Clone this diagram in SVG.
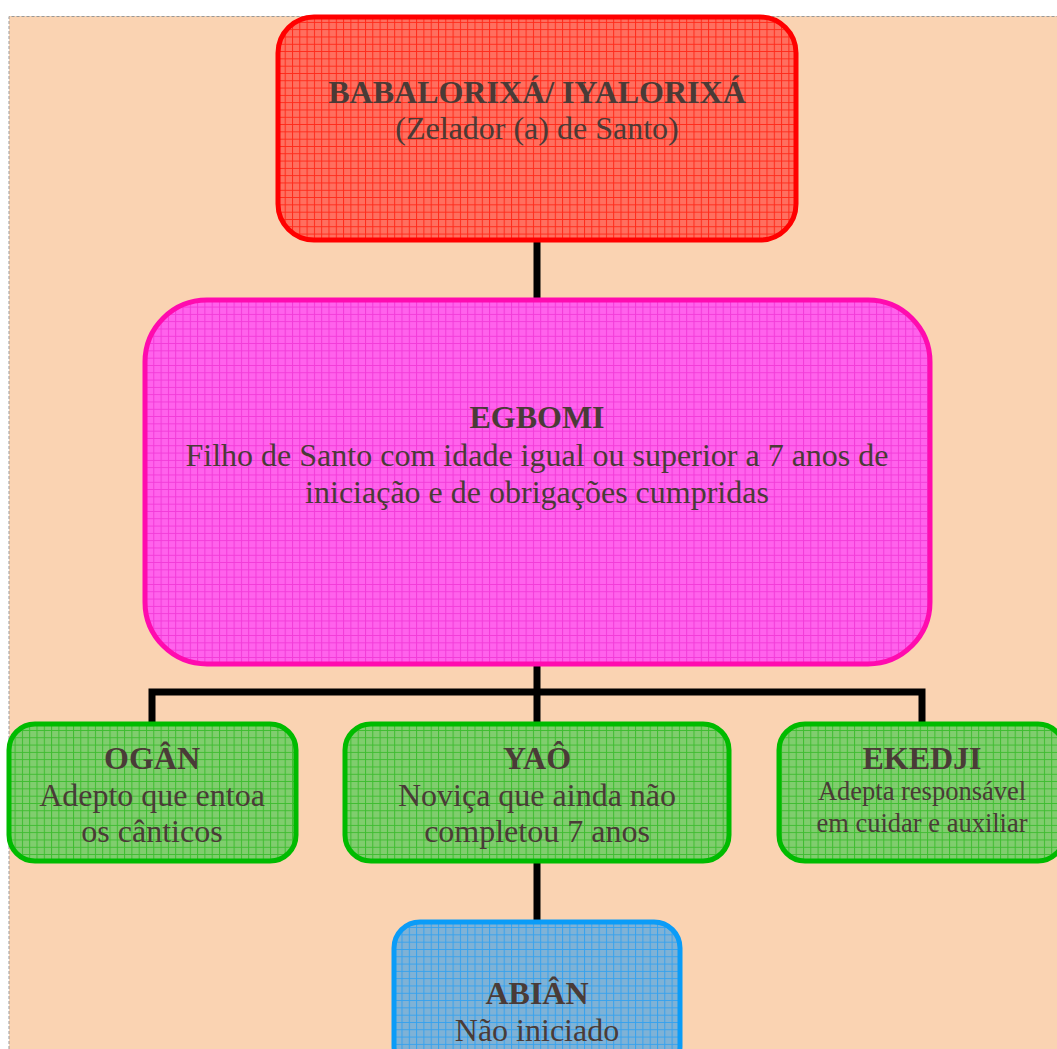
<svg xmlns="http://www.w3.org/2000/svg" width="1057" height="1049" viewBox="0 0 1057 1049">
<defs>
<pattern id="gR" width="7.3" height="7.3" patternUnits="userSpaceOnUse"><rect width="7.3" height="7.3" fill="#FF6F5F"/><path d="M0 0.5H7.3M0.5 0V7.3" stroke="#FF2A1A" stroke-width="1"/></pattern>
<pattern id="gM" width="7.3" height="7.3" patternUnits="userSpaceOnUse"><rect width="7.3" height="7.3" fill="#FF62EC"/><path d="M0 0.5H7.3M0.5 0V7.3" stroke="#F23BD8" stroke-width="1"/></pattern>
<pattern id="gG" width="7.3" height="7.3" patternUnits="userSpaceOnUse"><rect width="7.3" height="7.3" fill="#80CD6E"/><path d="M0 0.5H7.3M0.5 0V7.3" stroke="#3EBC30" stroke-width="1"/></pattern>
<pattern id="gB" width="7.3" height="7.3" patternUnits="userSpaceOnUse"><rect width="7.3" height="7.3" fill="#7FB2D6"/><path d="M0 0.5H7.3M0.5 0V7.3" stroke="#36A2EE" stroke-width="1"/></pattern>
</defs>
<style>
.t{font-family:"Liberation Serif","Times New Roman",serif;fill:#4A3B37;text-anchor:middle}
.b{font-weight:bold;font-size:32px}
.r{font-size:32px}
.s{font-size:26.5px}
.c{stroke:#000;stroke-width:7;fill:none}
</style>
<rect x="0" y="0" width="1057" height="1049" fill="#FFFFFF"/>
<rect x="9" y="16" width="1060" height="1050" fill="#FAD3B2"/>
<path d="M9 1049V16.5H1057" fill="none" stroke="#999" stroke-width="1" stroke-dasharray="3,2"/>
<g id="connectors">
<path class="c" d="M537 241V298"/>
<path class="c" d="M537 665V692M152 722V692H922V722M537 692V722"/>
<path class="c" d="M537 862V920"/>
</g>
<g id="n1">
<rect x="278" y="17" width="518" height="223" rx="36" fill="url(#gR)" stroke="#FF0000" stroke-width="5"/>
<text class="t b" x="537" y="103">BABALORIXÁ/ IYALORIXÁ</text>
<text class="t r" x="537" y="139">(Zelador (a) de Santo)</text>
</g>
<g id="n2">
<rect x="145" y="300" width="785" height="364" rx="62" fill="url(#gM)" stroke="#FF0BAF" stroke-width="5"/>
<text class="t b" x="537" y="428">EGBOMI</text>
<text class="t r" x="537" y="466">Filho de Santo com idade igual ou superior a 7 anos de</text>
<text class="t r" x="537" y="503">iniciação e de obrigações cumpridas</text>
</g>
<g id="n3">
<rect x="9" y="724" width="287" height="137" rx="26" fill="url(#gG)" stroke="#00BB00" stroke-width="5"/>
<text class="t b" x="152" y="769">OGÂN</text>
<text class="t r" x="152" y="806">Adepto que entoa</text>
<text class="t r" x="152" y="842">os cânticos</text>
</g>
<g id="n4">
<rect x="345" y="724" width="384" height="137" rx="26" fill="url(#gG)" stroke="#00BB00" stroke-width="5"/>
<text class="t b" x="537" y="769">YAÔ</text>
<text class="t r" x="537" y="806">Noviça que ainda não</text>
<text class="t r" x="537" y="842">completou 7 anos</text>
</g>
<g id="n5">
<rect x="779" y="724" width="285" height="137" rx="26" fill="url(#gG)" stroke="#00BB00" stroke-width="5"/>
<text class="t b" x="922" y="769">EKEDJI</text>
<text class="t s" x="922" y="800">Adepta responsável</text>
<text class="t s" x="922" y="832">em cuidar e auxiliar</text>
</g>
<g id="n6">
<rect x="394" y="922" width="286" height="150" rx="26" fill="url(#gB)" stroke="#0A9CF8" stroke-width="5"/>
<text class="t b" x="537" y="1004">ABIÂN</text>
<text class="t r" x="537" y="1041">Não iniciado</text>
</g>
</svg>
